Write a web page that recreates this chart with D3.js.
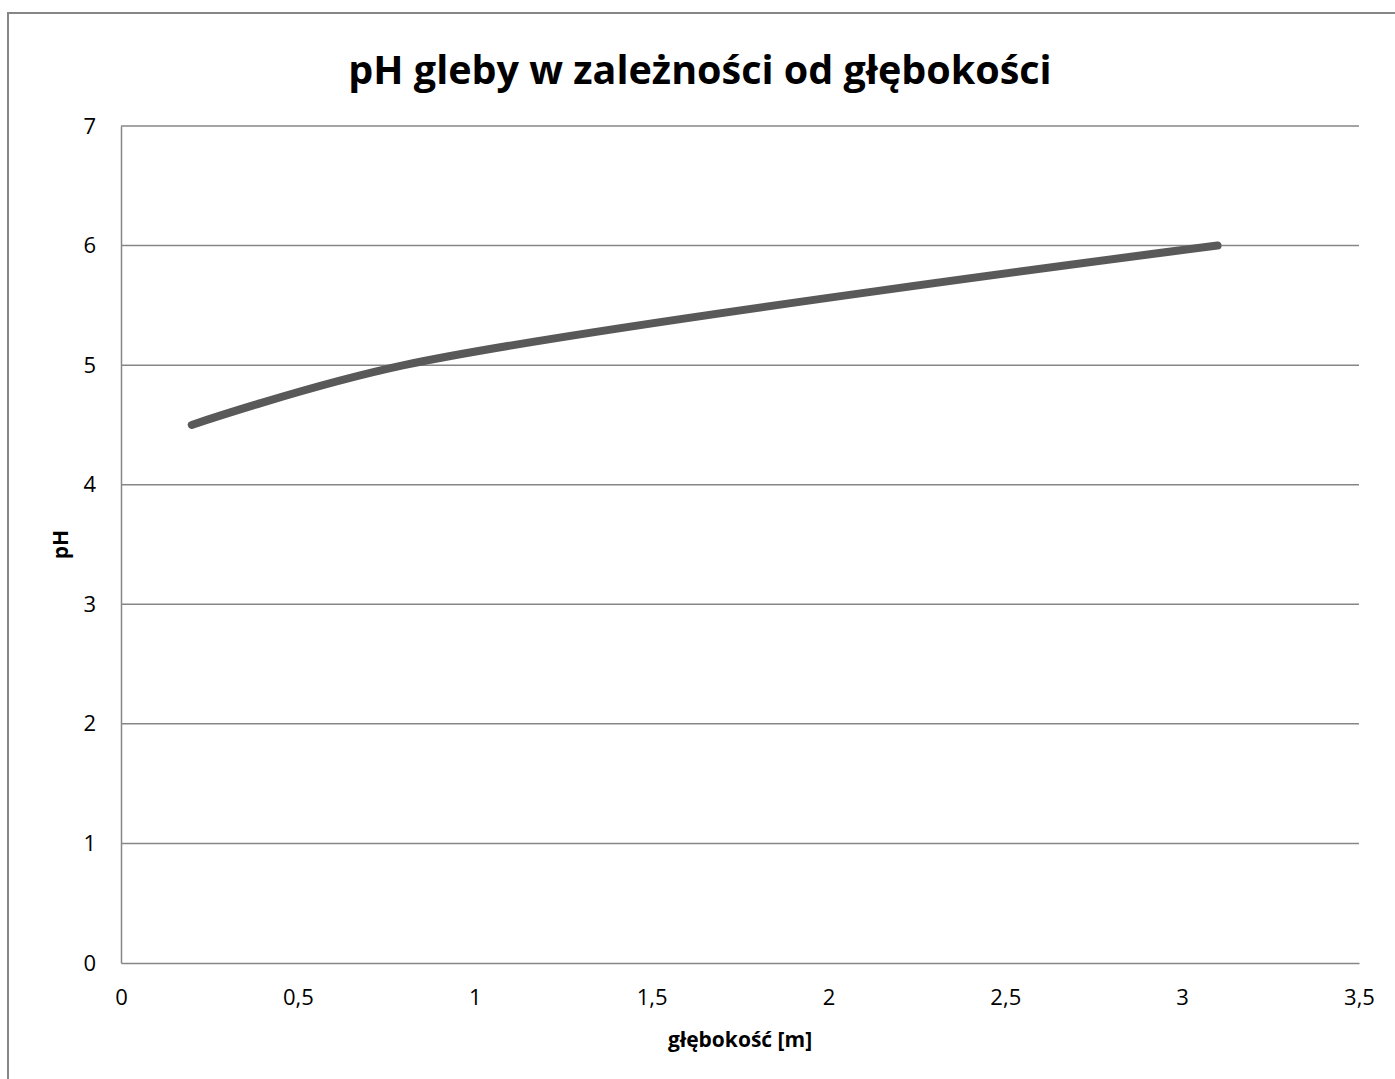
<!DOCTYPE html>
<html>
<head>
<meta charset="utf-8">
<script src="https://cdn.jsdelivr.net/npm/d3@7"></script>
<style>
  html, body { margin: 0; padding: 0; background: #fff; }
  svg { display: block; }
  text { font-family: "Open Sans", "Noto Sans", sans-serif; fill: #000; }
</style>
</head>
<body>
<svg id="chart" width="1395" height="1079"></svg>
<script>
// Soil pH measured at several depths
const depths = [0.2, 0.8, 3.1];
const phValues = [4.5, 5.0, 6.0];
const xTicks = [0, 0.5, 1, 1.5, 2, 2.5, 3, 3.5];
const yTicks = [0, 1, 2, 3, 4, 5, 6, 7];
const titleText = "pH gleby w zależności od głębokości";
const xAxisTitle = "głębokość [m]";
const yAxisTitle = "pH";

const svg = d3.select("#chart");
const W = 1395, H = 1079;
const plot = { left: 121, right: 1359, top: 126, bottom: 963 };

const x = d3.scaleLinear().domain([0, 3.5]).range([plot.left, plot.right]);
const y = d3.scaleLinear().domain([0, 7]).range([plot.bottom, plot.top]);
const fmt = d => String(d).replace(".", ",");

// outer chart frame (runs off the right and bottom edges)
svg.append("rect")
  .attr("x", 8).attr("y", 13)
  .attr("width", W).attr("height", H)
  .attr("fill", "#fff")
  .attr("stroke", "#868686").attr("stroke-width", 2);

// horizontal gridlines
svg.append("g").selectAll("line").data(yTicks.filter(d => d > 0)).join("line")
  .attr("x1", plot.left).attr("x2", plot.right)
  .attr("y1", d => y(d)).attr("y2", d => y(d))
  .attr("stroke", "#868686").attr("stroke-width", 1.5);

// y axis
const yAxis = svg.append("g")
  .attr("transform", `translate(${plot.left},0)`)
  .call(d3.axisLeft(y).tickValues(yTicks).tickFormat(fmt).tickSize(0).tickPadding(25));
yAxis.select(".domain").attr("stroke", "#868686").attr("stroke-width", 1.5);
yAxis.selectAll("text").style("font-size", "22px").attr("fill", "#000");

// x axis
const xAxis = svg.append("g")
  .attr("transform", `translate(0,${plot.bottom})`)
  .call(d3.axisBottom(x).tickValues(xTicks).tickFormat(fmt).tickSize(0).tickPadding(26));
xAxis.select(".domain").attr("stroke", "#868686").attr("stroke-width", 1.5);
xAxis.selectAll("text").style("font-size", "22px").attr("fill", "#000");

// data line
const pts = depths.map((d, i) => [d, phValues[i]]);
svg.append("path")
  .datum(pts)
  .attr("fill", "none")
  .attr("stroke", "#595959")
  .attr("stroke-width", 8)
  .attr("stroke-linecap", "round")
  .attr("stroke-linejoin", "round")
  .attr("d", d3.line().x(d => x(d[0])).y(d => y(d[1])).curve(d3.curveCatmullRom.alpha(0.5)));

// titles
svg.append("text")
  .attr("x", 700).attr("y", 84)
  .attr("text-anchor", "middle")
  .style("font-size", "39.5px").style("font-weight", "bold")
  .text(titleText);

svg.append("text")
  .attr("x", (plot.left + plot.right) / 2).attr("y", 1047)
  .attr("text-anchor", "middle")
  .style("font-size", "21px").style("font-weight", "bold")
  .text(xAxisTitle);

svg.append("text")
  .attr("transform", `translate(68,${(plot.top + plot.bottom) / 2}) rotate(-90)`)
  .attr("text-anchor", "middle")
  .style("font-size", "21px").style("font-weight", "bold")
  .text(yAxisTitle);
</script>
</body>
</html>
